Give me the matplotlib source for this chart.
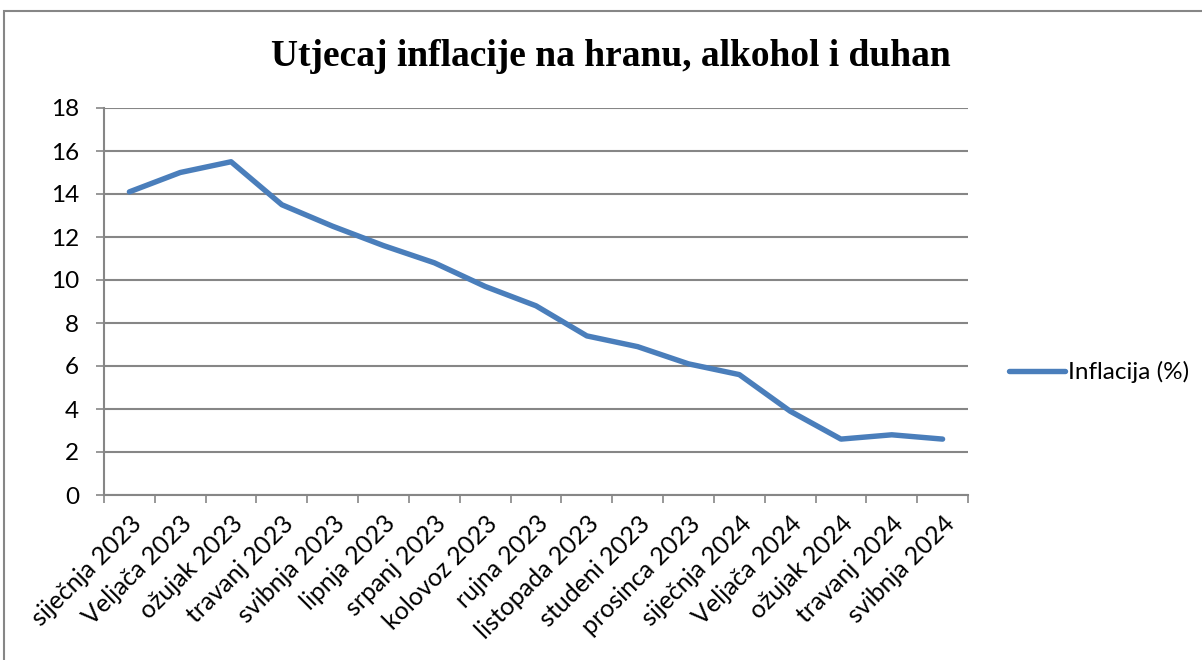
import numpy as np
import matplotlib
matplotlib.use("Agg")
import matplotlib.pyplot as plt
from matplotlib.patches import Rectangle

# monthly food/alcohol/tobacco inflation
months = ["siječnja 2023", "Veljača 2023", "ožujak 2023", "travanj 2023",
          "svibnja 2023", "lipnja 2023", "srpanj 2023", "kolovoz 2023",
          "rujna 2023", "listopada 2023", "studeni 2023", "prosinca 2023",
          "siječnja 2024", "Veljača 2024", "ožujak 2024", "travanj 2024",
          "svibnja 2024"]
inflation = [14.1, 15.0, 15.5, 13.5, 12.5, 11.6, 10.8, 9.7, 8.8, 7.4,
             6.9, 6.1, 5.6, 3.9, 2.6, 2.8, 2.6]
y_ticks = [0, 2, 4, 6, 8, 10, 12, 14, 16, 18]

grey = "#868686"
blue = "#4a7ebb"
plt.rcParams['font.family'] = ['Lato', 'DejaVu Sans']

fig = plt.figure(figsize=(12.02, 6.6), dpi=100)
ax = fig.add_axes([104 / 1202, 165 / 660, 864 / 1202, 387 / 660])

# chart-area frame (only top/left edges visible in the reference)
fig.patches.append(Rectangle((4 / 1202, -0.1), 1.2, (660 - 11) / 660 + 0.1,
                             transform=fig.transFigure, fill=False,
                             edgecolor=grey, lw=1.5))

n = len(months)
x = np.arange(n) + 0.5
ax.plot(x, inflation, color=blue, lw=3.9, solid_capstyle='round',
        solid_joinstyle='round', label="Inflacija (%)")

ax.set_xlim(0, n)
ax.set_ylim(0, 18)
ax.set_yticks(y_ticks)
ax.set_xticks(np.arange(n + 1))
ax.set_xticklabels([])
ax.set_xticks(x, minor=True)
ax.set_xticklabels(months, minor=True, rotation=45, ha='right', va='top',
                   rotation_mode='anchor', fontsize=18)
ax.tick_params(axis='x', which='minor', length=0, pad=12)
ax.tick_params(axis='x', which='major', length=6, width=1.2, color=grey)
ax.tick_params(axis='y', length=6, width=1.2, color=grey, pad=12, labelsize=17.5)

ax.grid(axis='y', color=grey, lw=1.5)
ax.set_axisbelow(True)
for side in ['top', 'right']:
    ax.spines[side].set_visible(False)
for side in ['left', 'bottom']:
    ax.spines[side].set_color(grey)
    ax.spines[side].set_linewidth(1.5)

fig.text(611 / 1202, 1 - 57 / 660, "Utjecaj inflacije na hranu, alkohol i duhan",
         ha='center', va='center', fontsize=27, fontweight='bold',
         family='Liberation Serif')

ax.legend(loc='center left', bbox_to_anchor=(999 / 1202, 1 - 372 / 660),
          bbox_transform=fig.transFigure, frameon=False, fontsize=17.5,
          handlelength=2.3, handletextpad=0.15, borderaxespad=0)

fig.savefig("out.png", dpi=100)
